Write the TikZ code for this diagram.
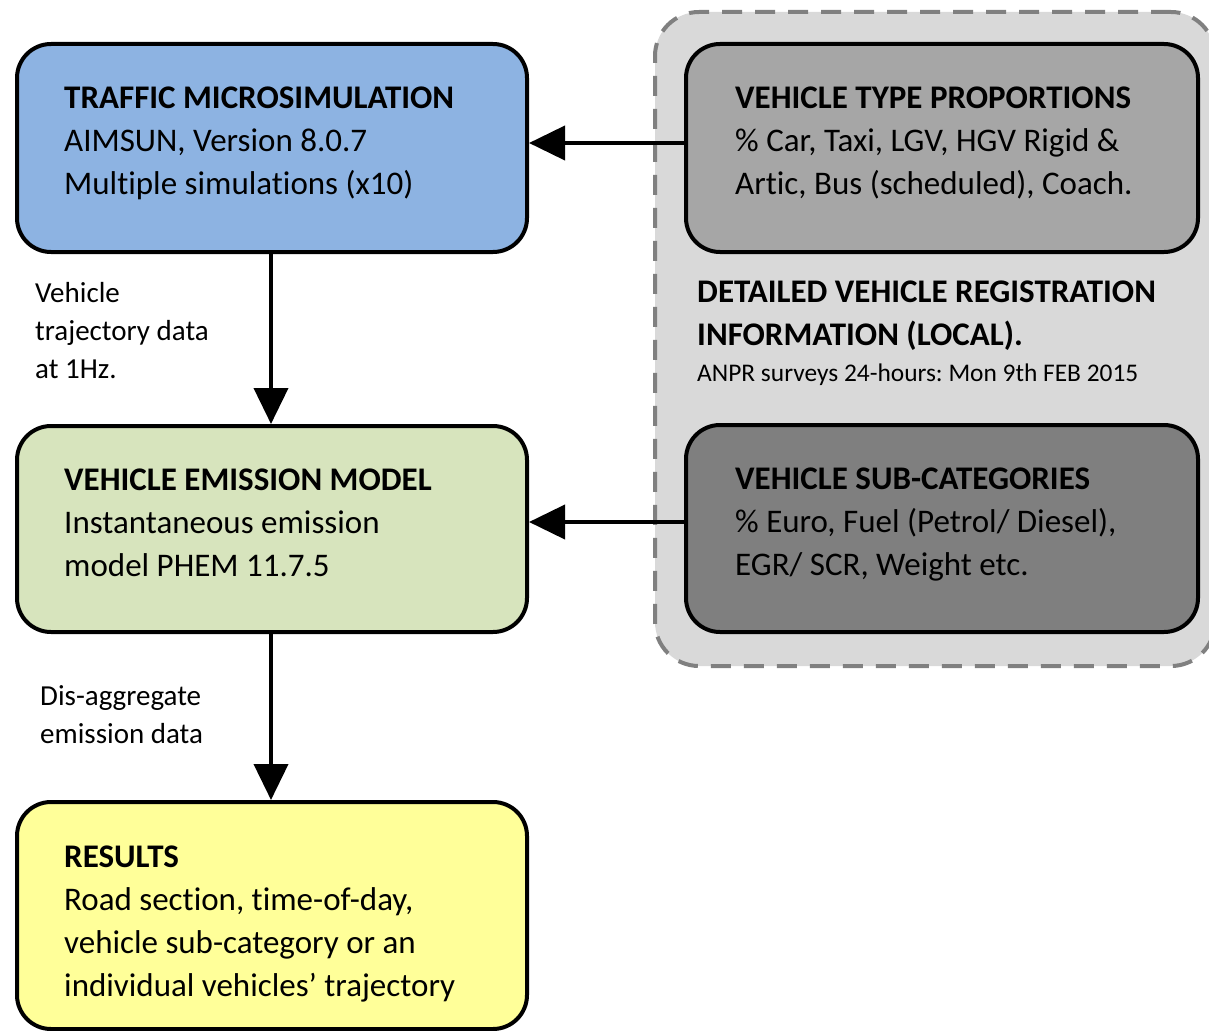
\documentclass[tikz,border=0pt]{standalone}
\usepackage{fontspec}
\setmainfont{Carlito}[Ligatures={NoCommon}]
\frenchspacing
\usetikzlibrary{arrows.meta}
\definecolor{cblue}{HTML}{8DB3E2}
\definecolor{cgreen}{HTML}{D7E4BD}
\definecolor{cyellow}{HTML}{FFFF99}
\definecolor{cgray}{HTML}{A6A6A6}
\definecolor{cdark}{HTML}{7F7F7F}
\definecolor{cpanel}{HTML}{D9D9D9}
\definecolor{cdash}{HTML}{808080}
\tikzset{
  box/.style={draw=black, line width=4pt, rounded corners=34pt, anchor=north west, inner sep=0pt},
  txt/.style={anchor=base west, inner sep=0pt, align=left, font=\fontsize{33}{43}\selectfont},
  lbl/.style={anchor=base west, inner sep=0pt, align=left, font=\fontsize{29}{38}\selectfont},
  conn/.style={line width=4pt, -{Triangle[width=34pt,length=36pt]}},
}
\begin{document}
\begin{tikzpicture}[x=1pt,y=-1pt]
\useasboundingbox (0,0) rectangle (1209,1030);
% panel
\node[anchor=north west, inner sep=0pt, minimum width=560pt, minimum height=654pt,
  fill=cpanel, draw=cdash, line width=4pt, dash pattern=on 20pt off 13pt, rounded corners=44pt] (panel) at (653,10) {};
% boxes
\node[box, fill=cblue, minimum width=510pt, minimum height=208pt] (traffic) at (15,42) {};
\node[box, fill=cgreen, minimum width=510pt, minimum height=206pt] (emis) at (15,424) {};
\node[box, fill=cyellow, minimum width=510pt, minimum height=227pt] (res) at (15,800) {};
\node[box, fill=cgray, minimum width=512pt, minimum height=208pt] (vtp) at (684,42) {};
\node[box, fill=cdark, minimum width=512pt, minimum height=207pt] (vsc) at (684,423) {};
% texts (anchored at the baseline of the last line)
\node[txt] (ttraffic) at (64,194) {\textbf{TRAFFIC MICROSIMULATION}\\AIMSUN, Version 8.0.7\\Multiple simulations (x10)};
\node[txt] (temis) at (64,576) {\textbf{VEHICLE EMISSION MODEL}\\Instantaneous emission\\model PHEM 11.7.5};
\node[txt] (tres) at (64,996) {\textbf{RESULTS}\\Road section, time-of-day,\\vehicle sub-category or an\\individual vehicles’ trajectory};
\node[txt] (tvtp) at (735,194) {\textbf{VEHICLE TYPE PROPORTIONS}\\\% Car, Taxi, LGV, HGV Rigid \&\\Artic, Bus (scheduled), Coach.};
\node[txt] (tvsc) at (735,575) {\textbf{VEHICLE SUB-CATEGORIES}\\\% Euro, Fuel (Petrol/ Diesel),\\EGR/ SCR, Weight etc.};
\node[txt] (tdet) at (697,345) {\textbf{DETAILED VEHICLE REGISTRATION}\\\textbf{INFORMATION (LOCAL).}};
\node[anchor=base west, inner sep=0pt, font=\fontsize{25.4}{30}\selectfont] (tanpr) at (697,381) {ANPR surveys 24-hours: Mon 9th FEB 2015};
% labels
\node[lbl] (l1) at (35,378) {Vehicle\\trajectory data\\at 1Hz.};
\node[lbl] (l2) at (40,743) {Dis-aggregate\\emission data};
% connectors
\draw[conn] (traffic.south -| 271,0) -- (emis.north -| 271,0);
\draw[conn] (emis.south -| 271,0) -- (res.north -| 271,0);
\draw[conn] (vtp.west |- 0,143) -- (traffic.east |- 0,143);
\draw[conn] (vsc.west |- 0,522) -- (emis.east |- 0,522);
\end{tikzpicture}
\end{document}
